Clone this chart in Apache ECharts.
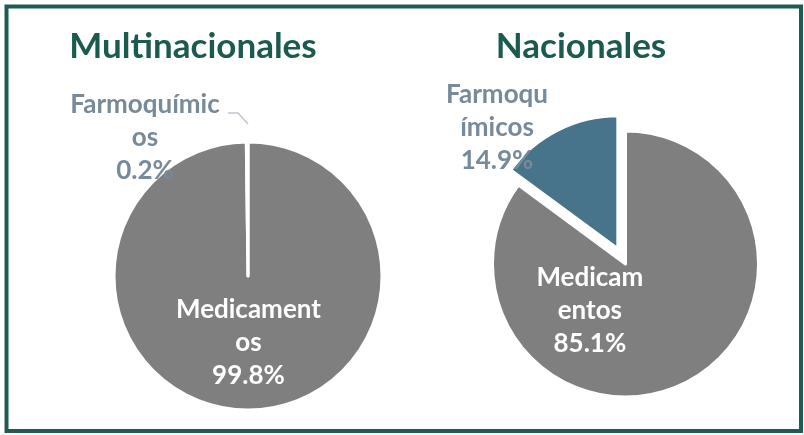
<!DOCTYPE html>
<html><head><meta charset="utf-8">
<script src="https://cdn.jsdelivr.net/npm/echarts@6/dist/echarts.min.js"></script>
<style>html,body{margin:0;padding:0;background:#fff}#c{width:804px;height:435px}</style>
</head><body><div id="c"></div>
<script>
// ---- data ----
const categories = ['Medicamentos', 'Farmoquímicos'];
const multinacionales = [99.8, 0.2];
const nacionales = [85.1, 14.9];
const chartTitles = ['Multinacionales', 'Nacionales'];
// character position where each label wraps (mimics the original text wrapping)
const wrapLeft = [10, 11];
const wrapRight = [7, 7];

const FONT = 'Lato';
const GRAY = '#7f7f7f', TEAL = '#47748a', LABEL = '#778a99', GREEN = '#1b5b4f';

function wrapName(name, n) { return name.slice(0, n) + '\n' + name.slice(n); }
function fmt(wraps) { return p => wrapName(p.name, wraps[p.dataIndex]) + '\n' + p.value.toFixed(1) + '%'; }

const baseLabel = { fontFamily: FONT, fontWeight: 'bold', fontSize: 26, lineHeight: 33, align: 'center' };

// left pie
const leftData = categories.map((c, i) => ({
  name: c, value: multinacionales[i],
  itemStyle: { color: i ? TEAL : GRAY },
  label: i ? { position: 'outside', color: LABEL } : { position: 'inside', color: '#fff' },
  labelLine: { show: i === 1 }
}));

// right pie: base (Medicamentos) and exploded slice (Farmoquímicos)
const RC = [625.5, 264], RR = 133, EXPLODE = 17;
const total = nacionales[0] + nacionales[1];
const midAng = (nacionales[0] + nacionales[1] / 2) / total * 2 * Math.PI; // clockwise from top
const explodedCenter = [RC[0] + EXPLODE * Math.sin(midAng), RC[1] - EXPLODE * Math.cos(midAng)];

const rightBase = categories.map((c, i) => ({
  name: c, value: nacionales[i],
  itemStyle: i ? { color: 'rgba(0,0,0,0)', borderWidth: 0 } : { color: GRAY },
  label: i ? { show: false } : { position: 'inside', color: '#fff' }
}));
const rightExploded = categories.map((c, i) => ({
  name: c, value: nacionales[i],
  itemStyle: i ? { color: TEAL } : { color: 'rgba(0,0,0,0)', borderWidth: 0 },
  label: i ? { position: 'outside', color: LABEL } : { show: false }
}));

const chart = echarts.init(document.getElementById('c'), null, { renderer: 'canvas' });
chart.setOption({
  backgroundColor: '#fff',
  animation: false,
  title: [
    { text: chartTitles[0], left: 193, top: 29, textAlign: 'center', padding: 0,
      textStyle: { fontFamily: FONT, fontSize: 35, fontWeight: 'bold', color: GREEN } },
    { text: chartTitles[1], left: 581, top: 29, textAlign: 'center', padding: 0,
      textStyle: { fontFamily: FONT, fontSize: 35, fontWeight: 'bold', color: GREEN } }
  ],
  graphic: [{
    type: 'rect', shape: { x: 6.5, y: 6.5, width: 794.5, height: 424.5 },
    style: { fill: 'none', stroke: '#1e5c52', lineWidth: 4 }, silent: true
  }],
  series: [
    {
      type: 'pie', center: [248, 276], radius: 134, startAngle: 90, clockwise: true,
      avoidLabelOverlap: false, emphasis: { disabled: true },
      itemStyle: { borderColor: '#fff', borderWidth: 3 },
      label: Object.assign({ formatter: fmt(wrapLeft) }, baseLabel),
      labelLine: { lineStyle: { color: '#bdc7ce', width: 1.5 } },
      data: leftData,
      labelLayout: p => p.dataIndex === 1
        ? { x: 145, y: 138, align: 'center', verticalAlign: 'middle',
            labelLinePoints: [[248, 124], [238, 113], [228, 113]] }
        : { dy: -3 }
    },
    {
      type: 'pie', center: RC, radius: RR, startAngle: 90, clockwise: true,
      avoidLabelOverlap: false, emphasis: { disabled: true },
      itemStyle: { borderColor: '#fff', borderWidth: 3 },
      label: Object.assign({ formatter: fmt(wrapRight) }, baseLabel),
      labelLine: { show: false },
      data: rightBase,
      labelLayout: p => p.dataIndex === 0 ? { dx: -67, dy: -15 } : {}
    },
    {
      type: 'pie', center: explodedCenter, radius: RR, startAngle: 90, clockwise: true,
      avoidLabelOverlap: false, emphasis: { disabled: true },
      itemStyle: { borderColor: '#fff', borderWidth: 3 },
      label: Object.assign({ formatter: fmt(wrapRight) }, baseLabel),
      labelLine: { show: false },
      data: rightExploded,
      labelLayout: p => p.dataIndex === 1
        ? { x: 497, y: 128, align: 'center', verticalAlign: 'middle' }
        : {}
    }
  ]
});
</script>
</body></html>
